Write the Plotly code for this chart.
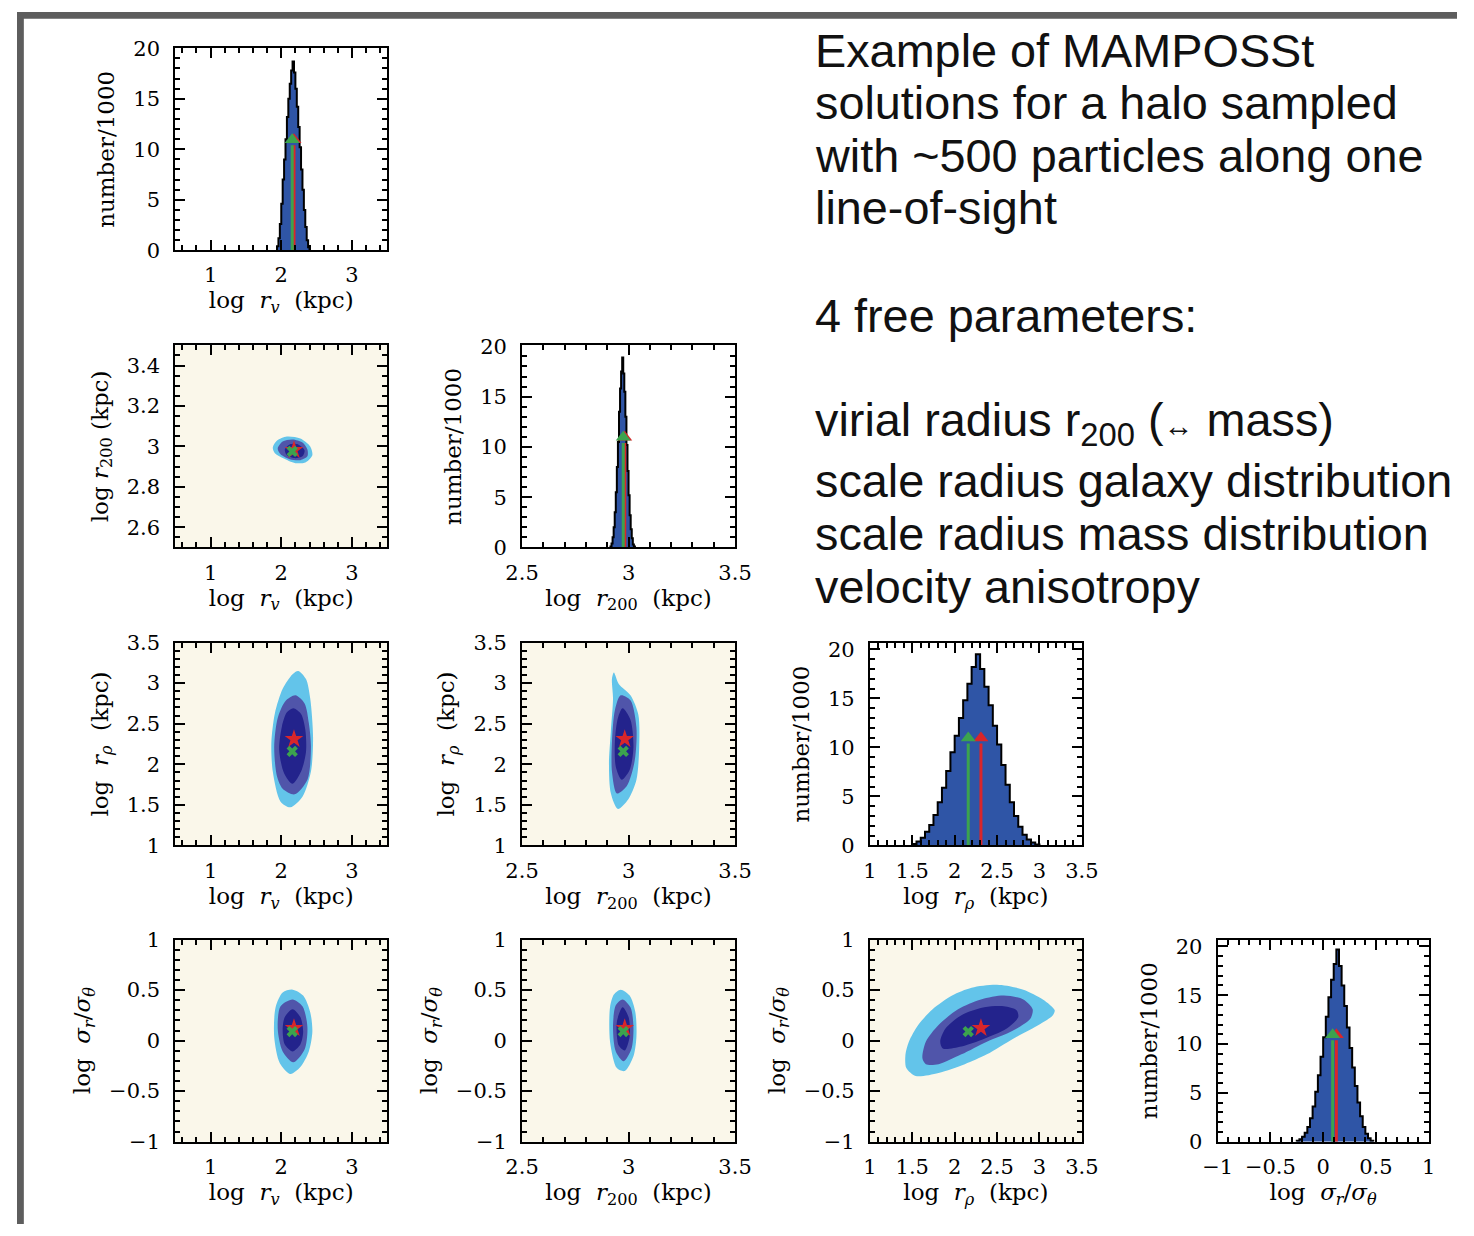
import plotly.graph_objects as go

# ---------------- marginal posteriors (number/1000 per bin) ----------------
rv_bin_start, rv_bin_width = 1.94, 0.02
rv_counts = [0.4, 1.2, 2.6, 4.6, 7.0, 9.0, 11.0, 13.2, 15.0, 16.5, 17.8, 18.7,
             17.6, 16.0, 14.2, 12.2, 10.2, 8.0, 6.0, 4.0, 2.3, 1.0, 0.3]

r200_bin_start, r200_bin_width = 2.915, 0.005
r200_counts = [0.1, 0.4, 1.0, 2.0, 3.5, 5.5, 8.0, 10.5, 13.5, 15.8, 17.5, 18.9,
               17.3, 15.5, 13.0, 10.2, 7.6, 5.2, 3.2, 1.8, 0.9, 0.3, 0.1]

rrho_bin_start, rrho_bin_width = 1.50, 0.05
rrho_counts = [0.15, 0.4, 0.8, 1.4, 2.1, 3.1, 4.4, 5.9, 7.6, 9.5, 11.2, 13.0, 14.8, 16.5, 18.2,
               19.5,
               18.0, 16.2, 14.3, 12.2, 10.3, 8.2, 6.2, 4.4, 3.0, 1.9, 1.1, 0.6, 0.3, 0.1]

sig_bin_start, sig_bin_width = -0.25, 0.025
sig_counts = [0.1, 0.25, 0.5, 0.9, 1.5, 2.4, 3.6, 5.1, 6.8, 8.7, 10.7, 12.8, 14.8, 16.6, 18.2,
              19.7,
              18.0, 16.0, 13.9, 11.7, 9.6, 7.6, 5.7, 4.0, 2.6, 1.5, 0.8, 0.35, 0.1]

# true halo values (green) and MAMPOSSt best fit (red)
true_rv, true_r200, true_rrho, true_sig = 2.155, 2.975, 2.16, 0.09
best_rv, best_r200, best_rrho, best_sig = 2.18, 2.982, 2.31, 0.125
arrow_top = 10.4

# ---------------- joint posteriors: 1, 2, 3 sigma regions ----------------
# log r200 vs log r_v
rv_r200_outer_x = [1.88, 1.94, 2.08, 2.27, 2.41, 2.44, 2.35, 2.20, 2.02, 1.91]
rv_r200_outer_y = [2.995, 3.029, 3.049, 3.039, 3.000, 2.956, 2.922, 2.917, 2.942, 2.966]
rv_r200_mid_x = [1.95, 2.02, 2.16, 2.30, 2.37, 2.37, 2.27, 2.12, 1.99]
rv_r200_mid_y = [2.990, 3.024, 3.034, 3.019, 2.985, 2.951, 2.932, 2.937, 2.961]
rv_r200_inner_x = [2.05, 2.12, 2.24, 2.33, 2.30, 2.19, 2.08]
rv_r200_inner_y = [2.985, 3.010, 3.010, 2.981, 2.951, 2.942, 2.956]

# log r_rho vs log r_v
rv_rrho_outer_x = [2.24, 2.35, 2.41, 2.45, 2.42, 2.30, 2.13, 1.99, 1.88, 1.86, 1.91, 2.02, 2.16]
rv_rrho_outer_y = [3.15, 3.05, 2.81, 2.33, 1.91, 1.60, 1.47, 1.54, 1.91, 2.27, 2.63, 2.93, 3.11]
rv_rrho_mid_x = [2.20, 2.33, 2.39, 2.42, 2.37, 2.19, 2.02, 1.94, 1.90, 1.95, 2.06]
rv_rrho_mid_y = [2.85, 2.75, 2.51, 2.21, 1.81, 1.63, 1.70, 1.85, 2.21, 2.57, 2.78]
rv_rrho_inner_x = [2.17, 2.28, 2.34, 2.35, 2.28, 2.16, 2.04, 1.97, 2.01, 2.08]
rv_rrho_inner_y = [2.69, 2.62, 2.43, 2.15, 1.91, 1.76, 1.89, 2.18, 2.47, 2.64]

# log r_rho vs log r200
r200_rrho_outer_x = [2.931, 2.954, 3.009, 3.046, 3.050, 3.037, 2.999, 2.950, 2.917, 2.908, 2.917, 2.927, 2.922]
r200_rrho_outer_y = [3.13, 2.99, 2.85, 2.61, 2.21, 1.81, 1.57, 1.45, 1.64, 2.00, 2.41, 2.81, 3.05]
r200_rrho_mid_x = [2.963, 3.009, 3.037, 3.028, 2.991, 2.945, 2.922, 2.922, 2.936]
r200_rrho_mid_y = [2.85, 2.79, 2.45, 2.03, 1.73, 1.64, 1.91, 2.27, 2.67]
r200_rrho_inner_x = [2.972, 3.009, 3.023, 3.005, 2.968, 2.940, 2.936, 2.950]
r200_rrho_inner_y = [2.69, 2.55, 2.21, 1.93, 1.81, 1.97, 2.29, 2.57]

# log sigma_r/sigma_theta vs log r_v
rv_sig_outer_x = [2.16, 2.31, 2.41, 2.44, 2.39, 2.27, 2.13, 1.98, 1.90, 1.92, 2.02]
rv_sig_outer_y = [0.505, 0.447, 0.282, 0.087, -0.107, -0.262, -0.330, -0.223, 0.039, 0.330, 0.476]
rv_sig_mid_x = [2.16, 2.30, 2.37, 2.33, 2.17, 2.02, 1.95, 1.99]
rv_sig_mid_y = [0.408, 0.340, 0.136, -0.087, -0.214, -0.107, 0.117, 0.340]
rv_sig_inner_x = [2.16, 2.27, 2.31, 2.27, 2.16, 2.05, 2.02, 2.05]
rv_sig_inner_y = [0.311, 0.233, 0.087, -0.039, -0.107, -0.039, 0.107, 0.233]

# log sigma_r/sigma_theta vs log r200
r200_sig_outer_x = [2.963, 3.005, 3.032, 3.037, 3.023, 2.982, 2.945, 2.913, 2.913, 2.931]
r200_sig_outer_y = [0.505, 0.447, 0.282, 0.039, -0.155, -0.301, -0.272, -0.010, 0.330, 0.456]
r200_sig_mid_x = [2.972, 3.009, 3.023, 3.014, 2.977, 2.940, 2.927, 2.940]
r200_sig_mid_y = [0.408, 0.330, 0.136, -0.078, -0.204, -0.107, 0.136, 0.350]
r200_sig_inner_x = [2.972, 3.000, 3.005, 2.982, 2.954, 2.945]
r200_sig_inner_y = [0.330, 0.233, 0.039, -0.097, -0.049, 0.184]

# log sigma_r/sigma_theta vs log r_rho
rrho_sig_outer_x = [1.43, 1.42, 1.46, 1.57, 1.74, 1.97, 2.20, 2.50, 2.81, 3.04, 3.18, 3.15,
                    3.01, 2.69, 2.38, 2.12, 1.81, 1.54]
rrho_sig_outer_y = [-0.272, -0.136, -0.010, 0.155, 0.311, 0.447, 0.524, 0.553, 0.505, 0.408, 0.301, 0.243,
                    0.165, 0.019, -0.136, -0.233, -0.320, -0.350]
rrho_sig_mid_x = [1.62, 1.66, 1.81, 2.04, 2.31, 2.58, 2.81, 2.92, 2.89, 2.66, 2.38, 2.08, 1.81, 1.66]
rrho_sig_mid_y = [-0.175, -0.010, 0.155, 0.311, 0.408, 0.447, 0.408, 0.311, 0.214, 0.087, -0.010,
                  -0.136, -0.233, -0.233]
rrho_sig_inner_x = [1.83, 1.89, 2.08, 2.35, 2.58, 2.73, 2.75, 2.61, 2.35, 2.08, 1.86]
rrho_sig_inner_y = [-0.010, 0.117, 0.252, 0.330, 0.340, 0.301, 0.233, 0.117, 0.019, -0.058, -0.078]

# ---------------- axis ticks ----------------
rv_ticks, rv_labels = [1, 2, 3], ["1", "2", "3"]
r200_xticks, r200_xlabels = [2.5, 3, 3.5], ["2.5", "3", "3.5"]
r200_yticks, r200_ylabels = [2.6, 2.8, 3, 3.2, 3.4], ["2.6", "2.8", "3", "3.2", "3.4"]
rrho_ticks, rrho_labels = [1, 1.5, 2, 2.5, 3, 3.5], ["1", "1.5", "2", "2.5", "3", "3.5"]
sig_ticks, sig_labels = [-1, -0.5, 0, 0.5, 1], ["\u22121", "\u22120.5", "0", "0.5", "1"]
num_ticks, num_labels = [0, 5, 10, 15, 20], ["0", "5", "10", "15", "20"]

text_lines = ["Example of MAMPOSSt", "solutions for a halo sampled",
              "with ~500 particles along one", "line-of-sight", "4 free parameters:",
              "virial radius r<sub>200</sub> (<span style='font-size:30px'>\u2194</span> mass)",
              "scale radius galaxy distribution", "scale radius mass distribution",
              "velocity anisotropy"]

# ---------------- styling ----------------
W, H = 1474, 1236
COLS = [(162, 379), (517, 735), (873, 1090), (1229, 1445)]
ROWS = [(37, 243), (340, 546), (643, 850), (946, 1152)]
HIST_BLUE = "#2f55a6"
C_OUTER, C_MID, C_INNER = "#63c4ea", "#5055aa", "#23238c"
BEIGE = "#faf7ea"
GREEN, RED = "#3ca34e", "#d9262a"
TICK_FONT = dict(family="DejaVu Serif", size=21, color="black")
TITLE_FONT = dict(family="DejaVu Serif", size=23, color="black")
SP = "\u00a0"

VARS = {
    "rv": dict(range=[0.5, 3.5], ticks=(rv_ticks, rv_labels), minor=0.2, tick0=0.0,
               title=f"log{SP}{SP}<i>r</i><sub><i>v</i></sub>{SP}{SP}(kpc)"),
    "r200x": dict(range=[2.5, 3.5], ticks=(r200_xticks, r200_xlabels), minor=0.1, tick0=2.5,
                  title=f"log{SP}{SP}<i>r</i><sub>200</sub>{SP}{SP}(kpc)"),
    "r200y": dict(range=[2.5, 3.5], ticks=(r200_yticks, r200_ylabels), minor=0.05, tick0=2.5,
                  title=f"log{SP}<i>r</i><sub>200</sub>{SP}(kpc)"),
    "rrho": dict(range=[1, 3.5], ticks=(rrho_ticks, rrho_labels), minor=0.1, tick0=1.0,
                 title=f"log{SP}{SP}<i>r</i><sub><i>\u03c1</i></sub>{SP}{SP}(kpc)"),
    "sig": dict(range=[-1, 1], ticks=(sig_ticks, sig_labels), minor=0.1, tick0=-1.0,
                title=f"log{SP}{SP}<i>\u03c3</i><sub><i>r</i></sub>/<i>\u03c3</i><sub><i>\u03b8</i></sub>"),
}


def axis(var, domain, anchor, is_y, rng=None):
    v = VARS[var] if isinstance(var, str) else var
    vals, texts = v["ticks"]
    return dict(
        domain=domain, anchor=anchor, range=rng or v["range"],
        tickmode="array", tickvals=vals, ticktext=texts,
        ticks="inside", ticklen=10, tickwidth=2, tickcolor="black",
        minor=dict(tickmode="linear", tick0=v["tick0"], dtick=v["minor"], ticks="inside",
                   ticklen=5, tickwidth=1.5, tickcolor="black", showgrid=False),
        showline=True, linecolor="black", linewidth=2, mirror="allticks",
        showgrid=False, zeroline=False, tickfont=TICK_FONT, tickangle=0,
        ticklabelstandoff=9 if is_y else 5,
        title=dict(text=v["title"], font=TITLE_FONT, standoff=12 if is_y else 3),
    )


NUM = dict(ticks=(num_ticks, num_labels), minor=1, tick0=0, title="number/1000", range=[0, 20])

fig = go.Figure()
layout = dict(width=W, height=H, margin=dict(l=0, r=0, t=0, b=0),
              paper_bgcolor="white", plot_bgcolor="white", showlegend=False,
              shapes=[], annotations=[])


def dom(col, row):
    (x0, x1), (y0, y1) = COLS[col], ROWS[row]
    return [x0 / W, x1 / W], [1 - y1 / H, 1 - y0 / H]


def add_hist(idx, col, row, xvar, start, width, counts, ytop, true_x, best_x):
    xd, yd = dom(col, row)
    xs, ys = [start], [0]
    for k, c in enumerate(counts):
        xs += [start + k * width, start + (k + 1) * width]
        ys += [c, c]
    xs.append(start + len(counts) * width)
    ys.append(0)
    xa, ya = f"x{idx}", f"y{idx}"
    fig.add_trace(go.Scatter(x=xs, y=ys, mode="lines", fill="toself", fillcolor=HIST_BLUE,
                             line=dict(color="black", width=2), xaxis=xa, yaxis=ya,
                             hoverinfo="skip"))
    for xv, colr in ((best_x, RED), (true_x, GREEN)):
        fig.add_trace(go.Scatter(x=[xv, xv], y=[0, arrow_top], mode="lines",
                                 line=dict(color=colr, width=3), xaxis=xa, yaxis=ya))
        fig.add_trace(go.Scatter(x=[xv], y=[arrow_top + 0.55], mode="markers",
                                 marker=dict(symbol="triangle-up", size=13, color=colr),
                                 xaxis=xa, yaxis=ya))
    layout[f"xaxis{idx}"] = axis(xvar, xd, ya, False)
    layout[f"yaxis{idx}"] = axis(NUM, yd, xa, True, rng=[0, ytop])


def add_joint(idx, col, row, xvar, yvar, regions, true_xy, best_xy):
    xd, yd = dom(col, row)
    xa, ya = f"x{idx}", f"y{idx}"
    layout["shapes"].append(dict(type="rect", xref=f"{xa} domain", yref=f"{ya} domain",
                                 x0=0, x1=1, y0=0, y1=1, fillcolor=BEIGE, line_width=0,
                                 layer="below"))
    for (rx, ry), colr in zip(regions, (C_OUTER, C_MID, C_INNER)):
        fig.add_trace(go.Scatter(x=rx + rx[:1], y=ry + ry[:1], mode="lines", fill="toself",
                                 fillcolor=colr, line=dict(width=0, shape="spline",
                                                           smoothing=0.8, color=colr),
                                 xaxis=xa, yaxis=ya, hoverinfo="skip"))
    fig.add_trace(go.Scatter(x=[best_xy[0]], y=[best_xy[1]], mode="markers",
                             marker=dict(symbol="star", size=14, color=RED),
                             xaxis=xa, yaxis=ya))
    fig.add_trace(go.Scatter(x=[true_xy[0]], y=[true_xy[1]], mode="markers",
                             marker=dict(symbol="x", size=10, color=GREEN,
                                         line=dict(width=0)),
                             xaxis=xa, yaxis=ya))
    layout[f"xaxis{idx}"] = axis(xvar, xd, ya, False)
    layout[f"yaxis{idx}"] = axis(yvar, yd, xa, True)


add_hist(1, 0, 0, "rv", rv_bin_start, rv_bin_width, rv_counts, 20.0, true_rv, best_rv)
add_joint(2, 0, 1, "rv", "r200y",
          [(rv_r200_outer_x, rv_r200_outer_y), (rv_r200_mid_x, rv_r200_mid_y),
           (rv_r200_inner_x, rv_r200_inner_y)], (true_rv, true_r200), (best_rv, best_r200))
add_hist(3, 1, 1, "r200x", r200_bin_start, r200_bin_width, r200_counts, 20.1, true_r200, best_r200)
add_joint(4, 0, 2, "rv", "rrho",
          [(rv_rrho_outer_x, rv_rrho_outer_y), (rv_rrho_mid_x, rv_rrho_mid_y),
           (rv_rrho_inner_x, rv_rrho_inner_y)], (true_rv, true_rrho), (best_rv, best_rrho))
add_joint(5, 1, 2, "r200x", "rrho",
          [(r200_rrho_outer_x, r200_rrho_outer_y), (r200_rrho_mid_x, r200_rrho_mid_y),
           (r200_rrho_inner_x, r200_rrho_inner_y)], (true_r200, true_rrho), (best_r200, best_rrho))
add_hist(6, 2, 2, "rrho", rrho_bin_start, rrho_bin_width, rrho_counts, 20.7, true_rrho, best_rrho)
add_joint(7, 0, 3, "rv", "sig",
          [(rv_sig_outer_x, rv_sig_outer_y), (rv_sig_mid_x, rv_sig_mid_y),
           (rv_sig_inner_x, rv_sig_inner_y)], (true_rv, true_sig), (best_rv, best_sig))
add_joint(8, 1, 3, "r200x", "sig",
          [(r200_sig_outer_x, r200_sig_outer_y), (r200_sig_mid_x, r200_sig_mid_y),
           (r200_sig_inner_x, r200_sig_inner_y)], (true_r200, true_sig), (best_r200, best_sig))
add_joint(9, 2, 3, "rrho", "sig",
          [(rrho_sig_outer_x, rrho_sig_outer_y), (rrho_sig_mid_x, rrho_sig_mid_y),
           (rrho_sig_inner_x, rrho_sig_inner_y)], (true_rrho, true_sig), (best_rrho, best_sig))
add_hist(10, 3, 3, "sig", sig_bin_start, sig_bin_width, sig_counts, 20.7, true_sig, best_sig)

# first axis pair uses the bare names
layout["xaxis"] = layout.pop("xaxis1")
layout["yaxis"] = layout.pop("yaxis1")
for tr in fig.data:
    if tr.xaxis == "x1":
        tr.xaxis, tr.yaxis = "x", "y"
layout["xaxis"]["anchor"] = "y"
layout["yaxis"]["anchor"] = "x"

# description text on the right
line_y = [40, 93, 147, 200, 310, 420, 478, 532, 586]
for txt, py in zip(text_lines, line_y):
    layout["annotations"].append(dict(
        text=txt, x=815 / W, y=1 - py / H, xref="paper", yref="paper",
        xanchor="left", yanchor="middle", showarrow=False, align="left",
        font=dict(family="Liberation Sans", size=46.8, color="#111111")))

# dark slide border along the top and left edges
layout["shapes"] += [
    dict(type="rect", xref="paper", yref="paper", x0=0, x1=7 / W, y0=0, y1=1,
         fillcolor="#5d5d5d", line_width=0, layer="above"),
    dict(type="rect", xref="paper", yref="paper", x0=0, x1=1, y0=1 - 7 / H, y1=1,
         fillcolor="#5d5d5d", line_width=0, layer="above"),
]

fig.update_layout(**layout)
fig.write_html("out.html",
               post_script="document.body.style.margin='0px';"
                           "document.body.style.overflow='hidden';")
